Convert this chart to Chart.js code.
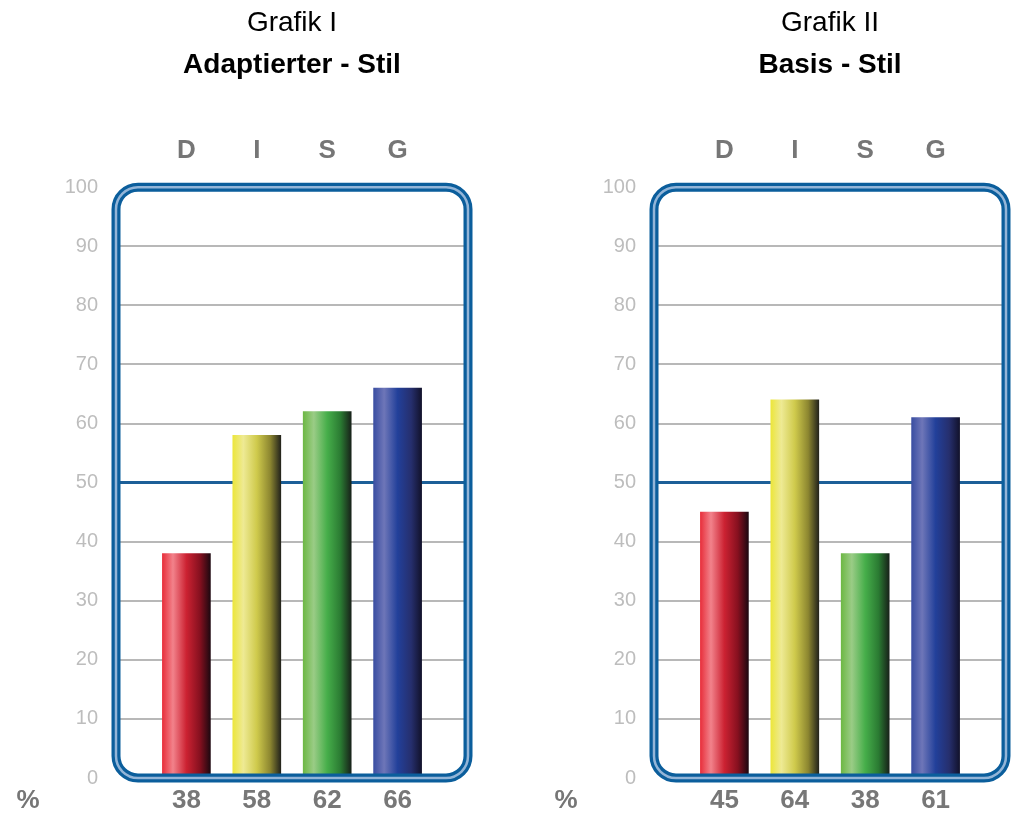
<!DOCTYPE html>
<html>
<head>
<meta charset="utf-8">
<script src="https://cdn.jsdelivr.net/npm/chart.js@4"></script>
<style>
  body { margin: 0; background: #fff; overflow: hidden; }
  #wrap { position: relative; width: 1015px; height: 823px; overflow: hidden; }
  canvas { position: absolute; top: 0; }
</style>
</head>
<body>
<div id="wrap">
  <canvas id="chartLeft" width="538" height="823" style="left:0"></canvas>
  <canvas id="chartRight" width="538" height="823" style="left:538px"></canvas>
</div>
<script>
// Data
const categories = ['D', 'I', 'S', 'G'];
const adaptedValues = [38, 58, 62, 66];
const basicValues = [45, 64, 38, 61];
const chartTitles = ['Grafik I', 'Grafik II'];
const chartSubtitles = ['Adaptierter - Stil', 'Basis - Stil'];
const yMin = 0;
const yMax = 100;
const yStep = 10;
const midLine = 50;

// Styles
const FONT = '"Liberation Sans", Arial, Helvetica, sans-serif';
const BAR_WIDTH = 48;
const barShades = [
    ['#e8303c', '#f2828b', '#cc2232', '#86101f', '#1e0810'],
    ['#ece63c', '#eeea94', '#cfca4c', '#8c8630', '#24241c'],
    ['#6eb845', '#9acc86', '#46ae4a', '#2a7a32', '#18221a'],
    ['#3a4ea2', '#6e76b8', '#22409a', '#262f6e', '#12122c']
];
const shadeStops = [0, 0.22, 0.5, 0.78, 1];

// horizontal cylinder-like gradient for one bar
function barGradient(c) {
    const chart = c.chart;
    if (!chart.chartArea) return barShades[c.dataIndex][2];
    const cx = chart.scales.x.getPixelForValue(c.dataIndex + 1);
    const left = cx - BAR_WIDTH / 2;
    const g = chart.ctx.createLinearGradient(left, 0, left + BAR_WIDTH, 0);
    barShades[c.dataIndex].forEach((col, k) => g.addColorStop(shadeStops[k], col));
    return g;
}

// Double blue rounded frame around the plot area + the "%" label
const framePlugin = {
    id: 'frame',
    afterDatasetsDraw(chart) {
        const { ctx, chartArea } = chart;
        const l = chartArea.left, t = chartArea.top, r = chartArea.right, b = chartArea.bottom;
        const rad = 22;
        const path = () => {
            ctx.beginPath();
            ctx.moveTo(l + rad, t);
            ctx.arcTo(r, t, r, b, rad);
            ctx.arcTo(r, b, l, b, rad);
            ctx.arcTo(l, b, l, t, rad);
            ctx.arcTo(l, t, r, t, rad);
            ctx.closePath();
        };
        ctx.save();
        path();
        ctx.lineWidth = 9;
        ctx.strokeStyle = '#0b5e9c';
        ctx.stroke();
        path();
        ctx.lineWidth = 2.5;
        ctx.strokeStyle = '#93b5d8';
        ctx.stroke();
        ctx.restore();
    },
    afterDraw(chart) {
        const ctx = chart.ctx;
        ctx.save();
        ctx.font = 'bold 26px ' + FONT;
        ctx.fillStyle = '#767676';
        ctx.textAlign = 'center';
        ctx.textBaseline = 'middle';
        ctx.fillText('%', 28, chart.chartArea.bottom + 23);
        ctx.restore();
    }
};

function gridColor(c) {
    const v = c.tick.value;
    if (v === yMin || v === yMax) return 'rgba(0,0,0,0)';
    return v === midLine ? '#1c5f98' : '#b8b8b8';
}

function makeChart(canvasId, title, subtitle, values) {
    const canvas = document.getElementById(canvasId);
    const ctx = canvas.getContext('2d');
    const points = values.map((v, i) => ({ x: i + 1, y: v }));
    const inRange = (value) => (value >= 1 && value <= categories.length);

    return new Chart(ctx, {
        type: 'bar',
        data: {
            datasets: [{
                data: points,
                backgroundColor: barGradient,
                borderWidth: 0,
                barThickness: BAR_WIDTH,
                xAxisID: 'x',
                yAxisID: 'y'
            }]
        },
        options: {
            responsive: false,
            animation: false,
            layout: { padding: { left: 0, right: canvas.width - 468, top: 0, bottom: 0 } },
            plugins: {
                legend: { display: false },
                tooltip: { enabled: false },
                title: {
                    display: true,
                    text: title,
                    fullSize: false,
                    color: '#000',
                    font: { family: FONT, size: 28, weight: 'normal' },
                    padding: { top: 6, bottom: 9 }
                },
                subtitle: {
                    display: true,
                    text: subtitle,
                    fullSize: false,
                    color: '#000',
                    font: { family: FONT, size: 28, weight: 'bold' },
                    padding: { top: 0, bottom: 0 }
                }
            },
            scales: {
                x: {
                    type: 'linear',
                    position: 'bottom',
                    offset: false,
                    min: 0,
                    max: categories.length + 1,
                    grid: { display: false, drawTicks: false },
                    border: { display: false },
                    afterFit: (scale) => { scale.height = 45; },
                    ticks: {
                        stepSize: 1,
                        padding: 7,
                        color: '#777',
                        font: { family: FONT, size: 26, weight: 'bold' },
                        callback: (value) => inRange(value) ? String(values[value - 1]) : ''
                    }
                },
                x2: {
                    type: 'linear',
                    position: 'top',
                    offset: false,
                    min: 0,
                    max: categories.length + 1,
                    grid: { display: false, drawTicks: false },
                    border: { display: false },
                    afterFit: (scale) => { scale.height = 105; },
                    ticks: {
                        stepSize: 1,
                        padding: 21,
                        color: '#767676',
                        font: { family: FONT, size: 26, weight: 'bold' },
                        callback: (value) => inRange(value) ? categories[value - 1] : ''
                    }
                },
                y: {
                    min: yMin,
                    max: yMax,
                    border: { display: false },
                    afterFit: (scale) => { scale.width = 116; },
                    grid: {
                        drawTicks: false,
                        color: gridColor,
                        lineWidth: (c) => c.tick.value === midLine ? 3 : 2
                    },
                    ticks: {
                        stepSize: yStep,
                        padding: 18,
                        color: '#bdbdbd',
                        font: { family: FONT, size: 20 }
                    }
                }
            }
        },
        plugins: [framePlugin]
    });
}

makeChart('chartLeft', chartTitles[0], chartSubtitles[0], adaptedValues);
makeChart('chartRight', chartTitles[1], chartSubtitles[1], basicValues);
</script>
</body>
</html>
